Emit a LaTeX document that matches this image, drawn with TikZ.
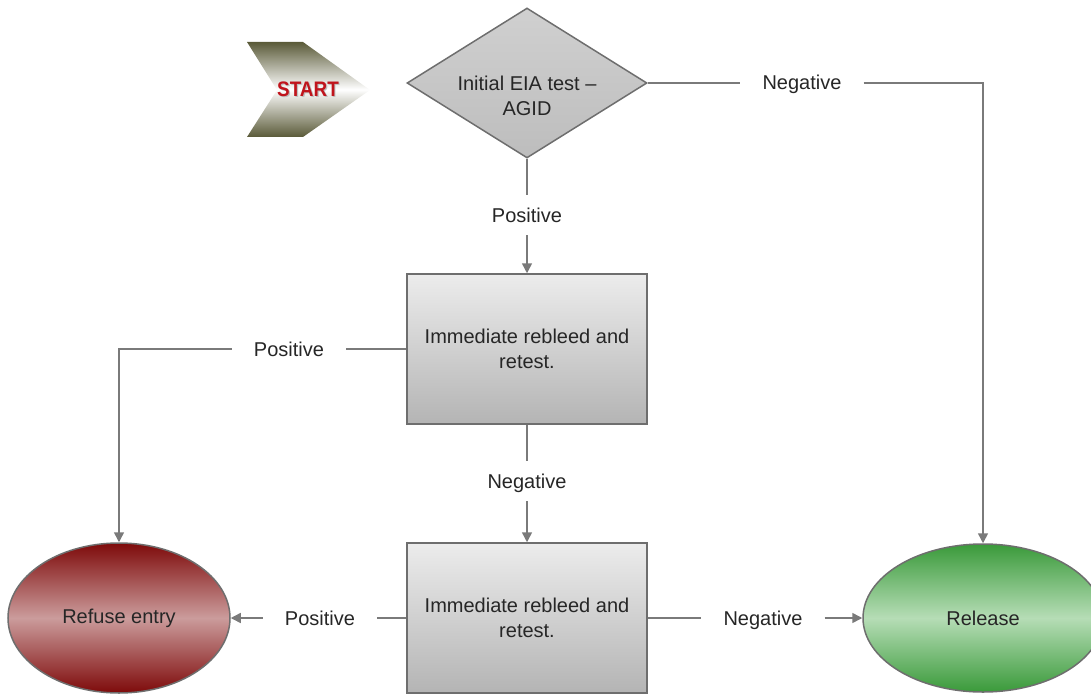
\documentclass[tikz,border=0pt]{standalone}
\usepackage{fontspec}
\setmainfont{Liberation Sans}
\usetikzlibrary{shapes.geometric,arrows.meta}
\definecolor{edgegray}{HTML}{6E6E6E}
\definecolor{linegray}{HTML}{7A7A7A}
\definecolor{txt}{HTML}{262626}
\definecolor{boxtop}{HTML}{ECECEC}
\definecolor{boxbot}{HTML}{B4B4B4}
\definecolor{diatop}{HTML}{D0D0D0}
\definecolor{diabot}{HTML}{BDBDBD}
\definecolor{redout}{HTML}{7E0A0A}
\definecolor{redmid}{HTML}{CB9C9C}
\definecolor{grnout}{HTML}{3A9A3A}
\definecolor{grnmid}{HTML}{B6DDB6}
\definecolor{olive}{HTML}{5A5A38}
\definecolor{startred}{HTML}{C0141C}
\begin{document}
\begin{tikzpicture}[x=1pt,y=-1pt,
  every node/.style={font=\fontsize{20}{25}\selectfont, text=txt},
  boxnode/.style={rectangle, draw=edgegray, line width=1.5pt, minimum width=240pt, minimum height=150pt, inner sep=0pt, top color=boxtop, bottom color=boxbot, align=center},
  dianode/.style={diamond, draw=edgegray, line width=1.5pt, minimum width=240pt, minimum height=150pt, inner sep=0pt, shape aspect=1.6, top color=diatop, bottom color=diabot},
  refnode/.style={ellipse, draw=edgegray, line width=1.5pt, minimum width=222pt, minimum height=150pt, inner sep=0pt, top color=redout, bottom color=redout, middle color=redmid},
  relnode/.style={ellipse, draw=edgegray, line width=1.5pt, minimum width=240pt, minimum height=148pt, inner sep=0pt, top color=grnout, bottom color=grnout, middle color=grnmid},
  lbl/.style={inner xsep=22pt, inner ysep=13pt, text height=14pt, text depth=0pt},
  conn/.style={draw=linegray, line width=1.5pt},
  arr/.style={conn, -{Triangle[length=10pt,width=10pt]}}
]
\useasboundingbox (0,0) rectangle (1091,695);
\begin{scope}
\clip (0,0) rectangle (1091,695);
% start chevron
\shade[top color=olive, bottom color=olive, middle color=white]
  (247,42) -- (303,42) -- (370,90) -- (303,137) -- (247,137) -- (277,90) -- cycle;
\node (startshadow) at (309.2,90.2) {\scalebox{0.9}[1]{\fontsize{21}{21}\selectfont\bfseries\color{black!25}START}};
\node (start) at (308,89) {\scalebox{0.9}[1]{\fontsize{21}{21}\selectfont\bfseries\color{startred}START}};

\node[dianode] (d) at (527,83) {};
\node[align=center] (dtext) at (527,96) {Initial EIA test –\\AGID};

\node[boxnode] (b1) at (527,349) {Immediate rebleed and\\retest.};
\node[boxnode] (b2) at (527,618) {Immediate rebleed and\\retest.};

\node[refnode] (refuse) at (119,618) {Refuse entry};
\node[relnode] (release) at (983,618) {Release};

\node[lbl] (lneg1) at (802,83) {Negative};
\node[lbl] (lpos1) at (527,215) {Positive};
\node[lbl] (lpos2) at (289,349) {Positive};
\node[lbl] (lneg2) at (527,481) {Negative};
\node[lbl] (lpos3) at (320,618) {Positive};
\node[lbl] (lneg3) at (763,618) {Negative};

\draw[conn] (d.east) -- (lneg1.west);
\draw[arr] (lneg1.east) -| (release.north);
\draw[conn] (d.south) -- (lpos1.north);
\draw[arr] (lpos1.south) -- (b1.north);
\draw[conn] (b1.west) -- (lpos2.east);
\draw[arr] (lpos2.west) -| (refuse.north);
\draw[conn] (b1.south) -- (lneg2.north);
\draw[arr] (lneg2.south) -- (b2.north);
\draw[conn] (b2.west) -- (lpos3.east);
\draw[arr] (lpos3.west) -- (refuse.east);
\draw[conn] (b2.east) -- (lneg3.west);
\draw[arr] (lneg3.east) -- (release.west);
\end{scope}
\end{tikzpicture}
\end{document}
